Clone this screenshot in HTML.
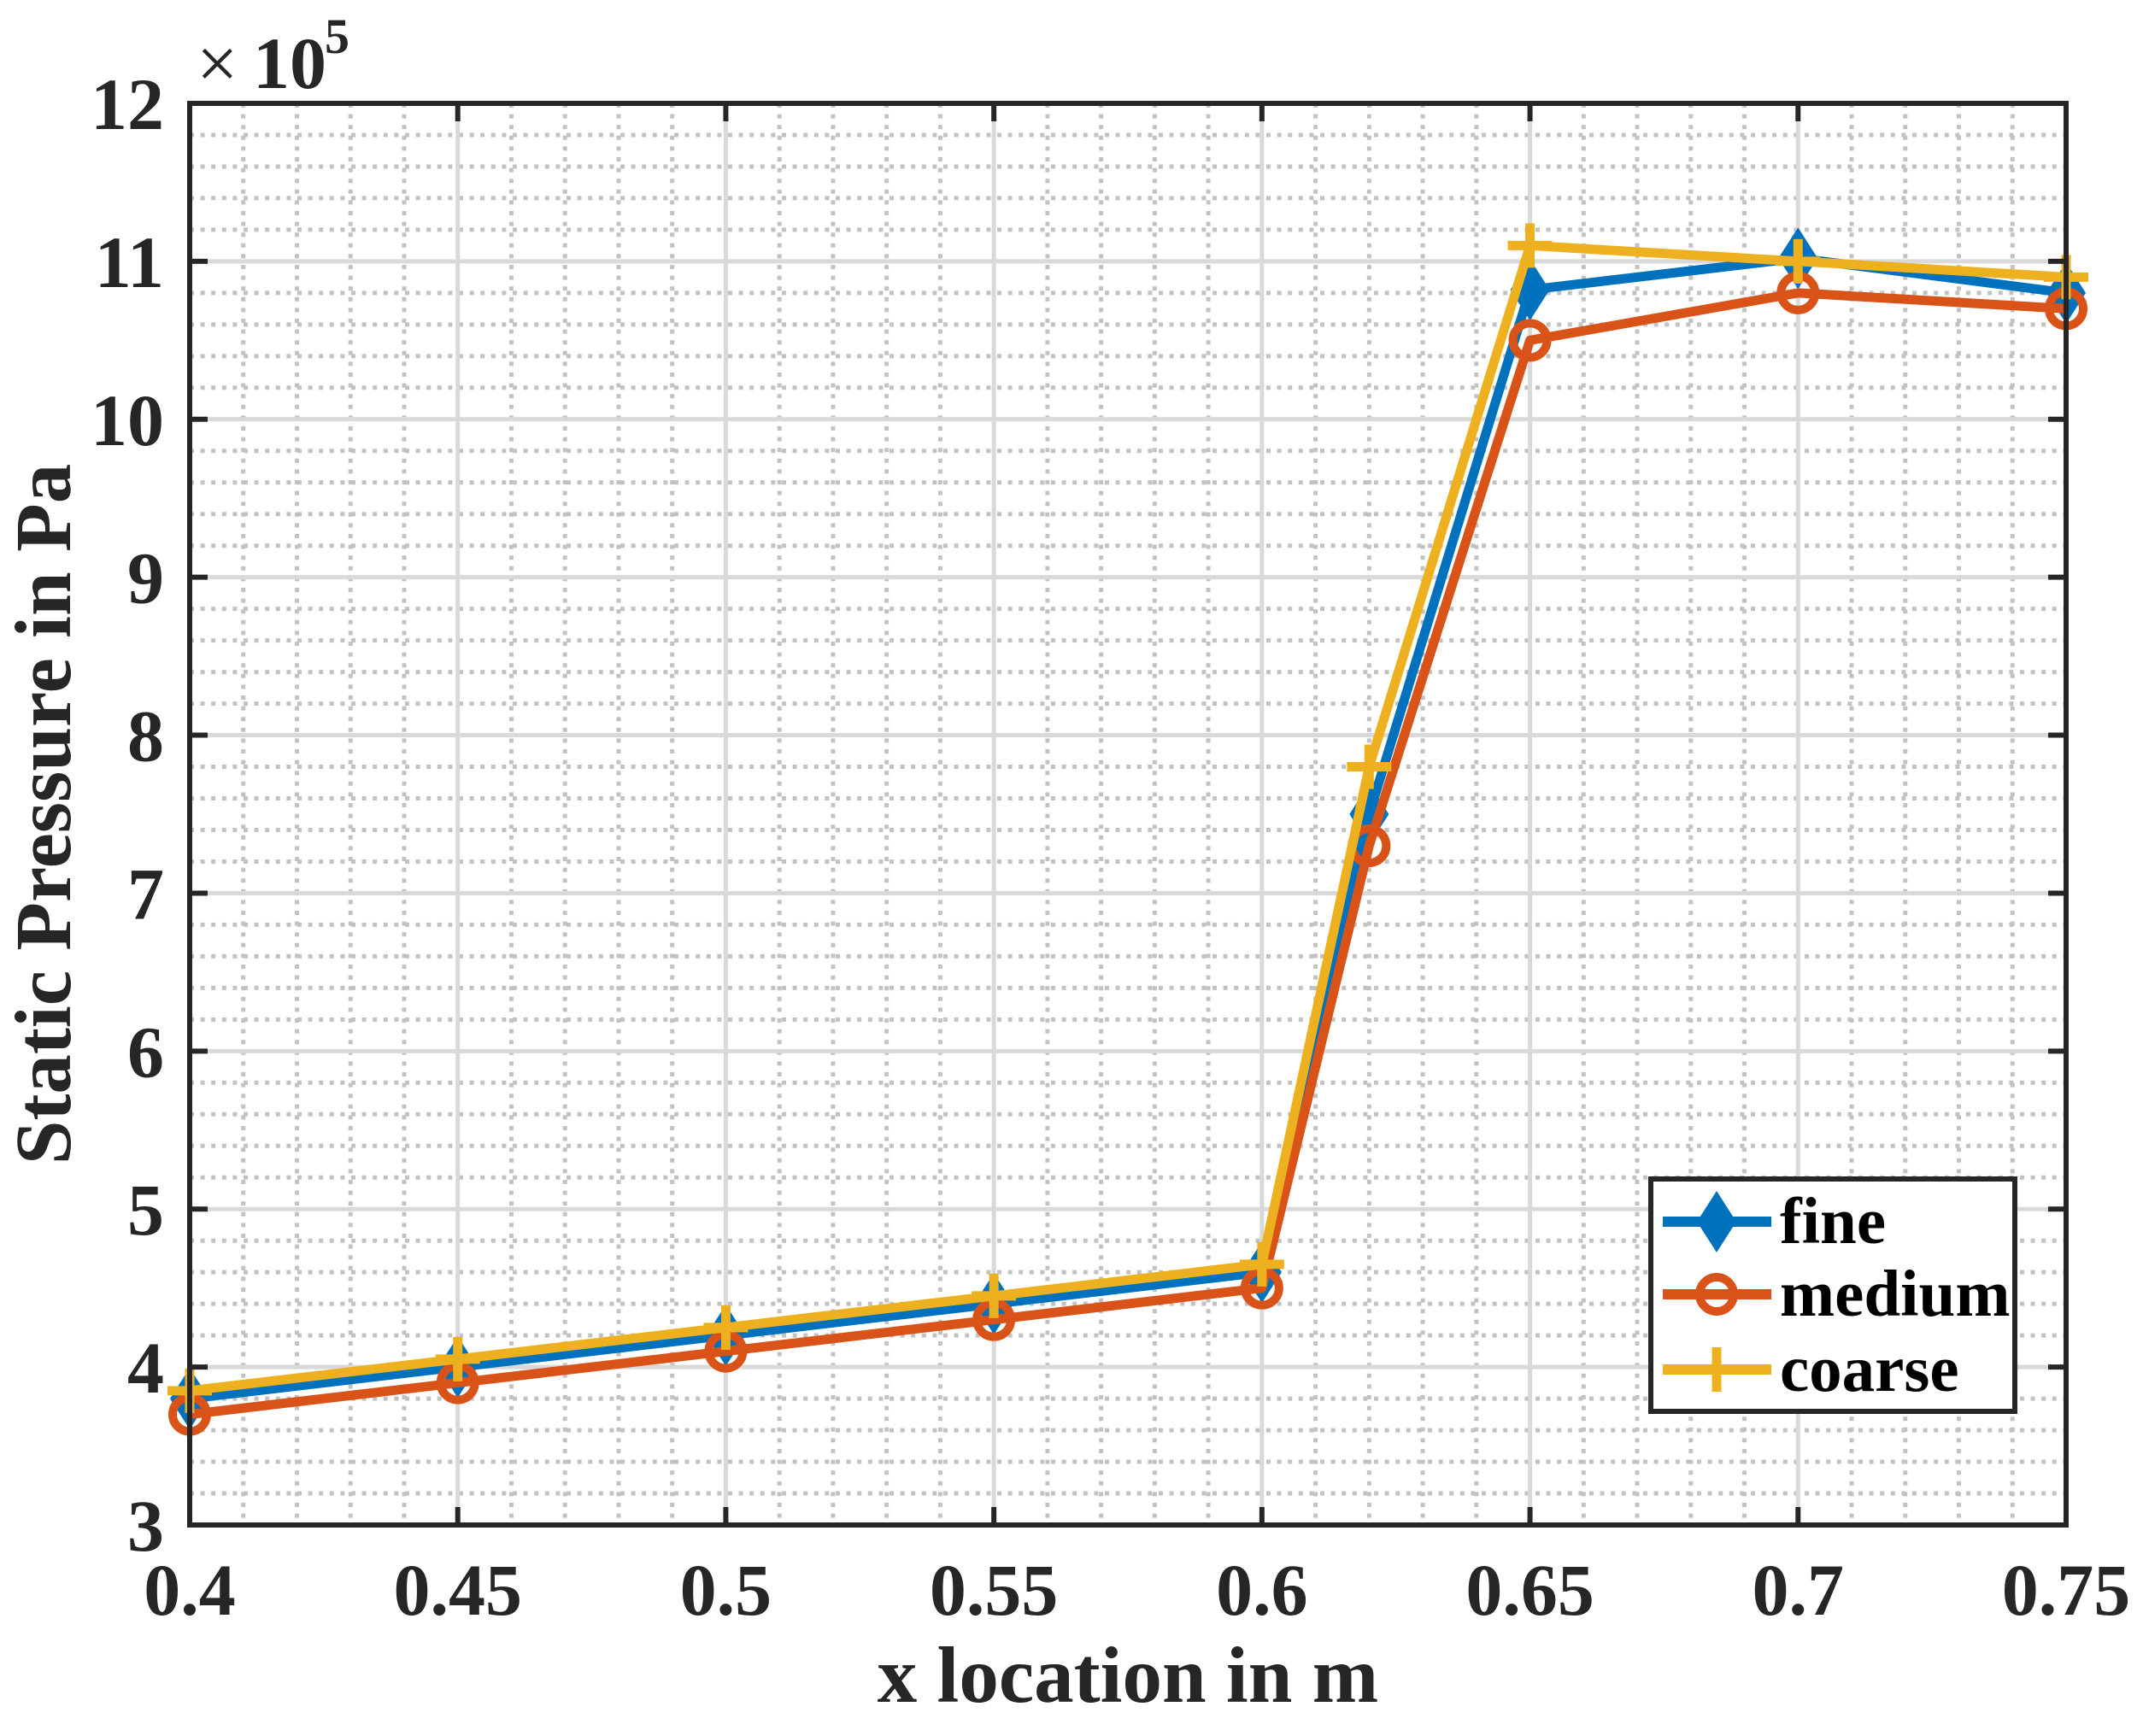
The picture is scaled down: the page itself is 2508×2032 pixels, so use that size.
<!DOCTYPE html>
<html><head><meta charset="utf-8"><style>
html,body{margin:0;padding:0;background:#fff;}
svg{display:block;font-family:"Liberation Serif",serif;font-weight:bold;}
</style></head><body>
<svg id="chart" width="2508" height="2032" viewBox="0 0 2508 2032" xmlns="http://www.w3.org/2000/svg">
<rect x="0" y="0" width="2508" height="2032" fill="#fff"/>
<g id="grid"></g>
<g id="series"></g>
<g id="axes"></g>
<text x="82" y="953" font-size="93" fill="#262626" text-anchor="middle" transform="rotate(-90 82 953)">Static Pressure in Pa</text>
<text x="1320" y="1992" font-size="93" fill="#262626" text-anchor="middle">x location in m</text>
<g>
<text x="230" y="103" font-size="86" font-weight="normal" fill="#262626">×</text>
<text x="296" y="103" font-size="86" fill="#262626">10</text>
<text x="380" y="62" font-size="58" fill="#262626">5</text>
</g>
<g id="legend"></g>
</svg>
<script>
const categories = [0.4, 0.45, 0.5, 0.55, 0.6, 0.62, 0.65, 0.7, 0.75];
const fineValues = [3.8, 4.0, 4.2, 4.4, 4.6, 7.5, 10.82, 11.02, 10.8];
const mediumValues = [3.7, 3.9, 4.1, 4.3, 4.5, 7.3, 10.5, 10.8, 10.7];
const coarseValues = [3.85, 4.05, 4.25, 4.45, 4.65, 7.8, 11.1, 11.0, 10.9];
const xTickLabels = ["0.4", "0.45", "0.5", "0.55", "0.6", "0.65", "0.7", "0.75"];
const yTickLabels = ["3", "4", "5", "6", "7", "8", "9", "10", "11", "12"];
const seriesNames = ["fine", "medium", "coarse"];

const NS = "http://www.w3.org/2000/svg";
const L = 222, R = 2418, T = 121, B = 1785;
const xMin = 0.4, xMax = 0.75, yMin = 3, yMax = 12;
function xs(v){ return L + (v - xMin) / (xMax - xMin) * (R - L); }
function ys(v){ return B - (v - yMin) / (yMax - yMin) * (B - T); }
function mk(tag, attrs, parent){
  const e = document.createElementNS(NS, tag);
  for (const k in attrs) e.setAttribute(k, attrs[k]);
  parent.appendChild(e);
  return e;
}
const grid = document.getElementById('grid');
const axes = document.getElementById('axes');
const sg = document.getElementById('series');
const lg = document.getElementById('legend');

for (let i = 0; i <= 35; i++) {
  if (i % 5 === 0) continue;
  const x = xs(xMin + i * 0.01);
  const l = mk('line', {x1:x, x2:x, y1:T, y2:B, stroke:'#c2c2c2', 'stroke-width':5, 'stroke-dasharray':'5 7.6'}, grid);
  
  
}
for (let i = 0; i <= 45; i++) {
  if (i % 5 === 0) continue;
  const y = ys(yMin + i * 0.2);
  const l = mk('line', {x1:L, x2:R, y1:y, y2:y, stroke:'#c2c2c2', 'stroke-width':5, 'stroke-dasharray':'5 7.6'}, grid);
  
  
}
xTickLabels.forEach(function(t){
  const x = xs(parseFloat(t));
  const g = mk('line', {x1:x, x2:x, y1:T, y2:B, stroke:'#d9d9d9', 'stroke-width':5}, grid);
  
  
  mk('line', {x1:x, x2:x, y1:B, y2:B-21, stroke:'#262626', 'stroke-width':6}, axes);
  mk('line', {x1:x, x2:x, y1:T, y2:T+21, stroke:'#262626', 'stroke-width':6}, axes);
  const tx = mk('text', {x:x, y:1890, 'font-size':86, fill:'#262626', 'text-anchor':'middle'}, axes);
  tx.textContent = t;
  
  
});
yTickLabels.forEach(function(t){
  const y = ys(parseFloat(t));
  const g = mk('line', {x1:L, x2:R, y1:y, y2:y, stroke:'#d9d9d9', 'stroke-width':5}, grid);
  
  
  mk('line', {x1:L, x2:L+21, y1:y, y2:y, stroke:'#262626', 'stroke-width':6}, axes);
  mk('line', {x1:R, x2:R-21, y1:y, y2:y, stroke:'#262626', 'stroke-width':6}, axes);
  const tx = mk('text', {x:192, y:y+30, 'font-size':86, fill:'#262626', 'text-anchor':'end'}, axes);
  tx.textContent = t;
  
  
});
const box = mk('rect', {x:L, y:T, width:R-L, height:B-T, fill:'none', stroke:'#262626', 'stroke-width':6}, axes);



const colors = ['#0072BD', '#D95319', '#EDB120'];
function marker(kind, cx, cy, color, parent){
  let m;
  if (kind === 0) {
    m = mk('polygon', {points:(cx)+','+(cy-36)+' '+(cx+23)+','+cy+' '+cx+','+(cy+36)+' '+(cx-23)+','+cy, fill:color}, parent);
  } else if (kind === 1) {
    m = mk('circle', {cx:cx, cy:cy, r:20, fill:'none', stroke:color, 'stroke-width':10}, parent);
  } else {
    m = mk('path', {d:'M'+(cx-26)+' '+cy+'H'+(cx+26)+'M'+cx+' '+(cy-26)+'V'+(cy+26), stroke:color, 'stroke-width':11, fill:'none'}, parent);
  }
  return m;
}
[fineValues, mediumValues, coarseValues].forEach(function(vals, si){
  const g = mk('g', {}, sg);
  
  
  const pts = categories.map(function(c, i){ return xs(c) + ',' + ys(vals[i]); }).join(' ');
  const pl = mk('polyline', {points:pts, fill:'none', stroke:colors[si], 'stroke-width':11, 'stroke-linejoin':'round'}, g);
  
  
  categories.forEach(function(c, i){
    const m = marker(si, xs(c), ys(vals[i]), colors[si], g);
    
    
  });
});

const lb = mk('rect', {x:1932, y:1380, width:426, height:272, fill:'#fff', stroke:'#262626', 'stroke-width':6}, lg);


const rowY = [1430, 1515, 1603];
seriesNames.forEach(function(n, i){
  const g = mk('g', {}, lg);
  
  
  mk('line', {x1:1946, x2:2073, y1:rowY[i], y2:rowY[i], stroke:colors[i], 'stroke-width':12}, g);
  marker(i, 2009, rowY[i], colors[i], g);
  const t = mk('text', {x:2083, y:rowY[i]+25, 'font-size':77, fill:'#000'}, g);
  t.textContent = n;
});
</script>
</body></html>
